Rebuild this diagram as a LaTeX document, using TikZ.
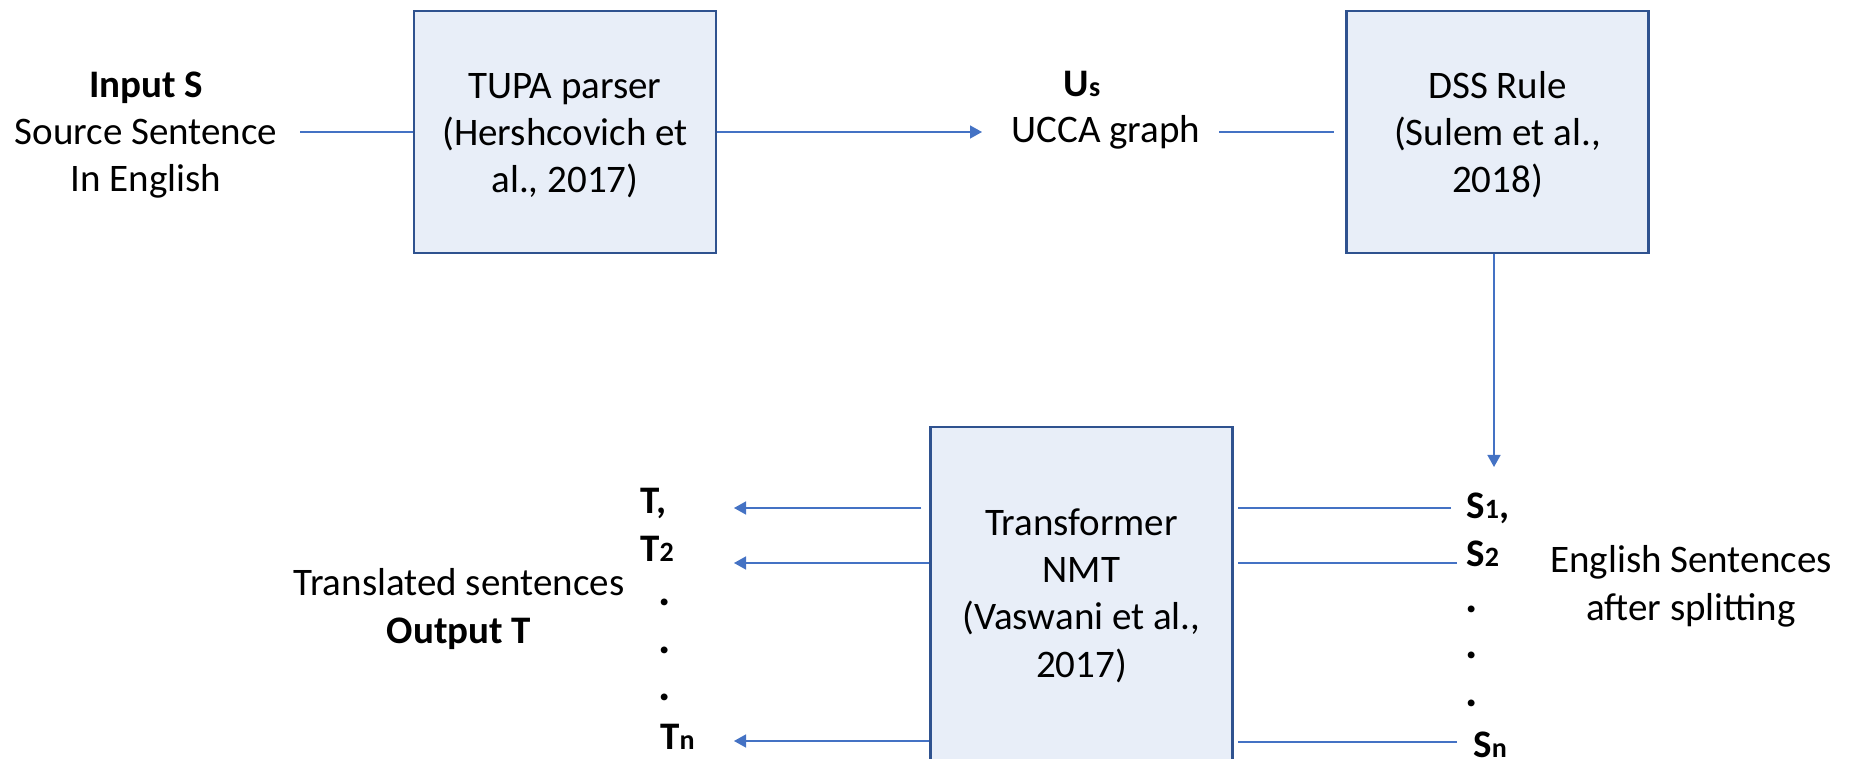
\documentclass[tikz,border=0pt]{standalone}
\usepackage{fontspec}
\setmainfont{Carlito}
\usetikzlibrary{arrows.meta}
\definecolor{boxfill}{HTML}{E8EEF8}
\definecolor{boxline}{HTML}{2F528F}
\definecolor{wireblue}{HTML}{4472C4}
% small index letter set on the baseline (U_s, S_1, T_n ...)
\newcommand\lowsub[1]{{\fontsize{14}{14}\selectfont #1}}

\begin{document}
\begin{tikzpicture}[x=0.5pt,y=-0.5pt,
  stagebox/.style={draw=boxline, fill=boxfill, line width=1.1pt,
    minimum width=151pt, minimum height=121pt, inner sep=0pt},
  txt/.style={font=\fontsize{19.5}{23.6}\selectfont, align=center,
    inner sep=0pt, anchor=base},
  lbl/.style={font=\fontsize{19.5}{23.6}\selectfont\bfseries,
    inner sep=0pt, anchor=base west},
  dotlbl/.style={lbl, font=\fontsize{23}{23}\selectfont\bfseries},
  wire/.style={draw=wireblue, line width=0.75pt},
  flow/.style={wire, -{Triangle[length=6pt,width=6.5pt]}},
]
\useasboundingbox (0,0) rectangle (1860,759);
\clip (0,0) rectangle (1860,759);

% processing stages
\node[stagebox] (tupa) at (565,132) {};
\node[stagebox] (dss) at (1497.5,132) {};
\node[stagebox, minimum height=170pt] (nmt) at (1081.5,597) {};

% multi-line texts are placed by the baseline of their last line
\node[txt] (tupa-txt) at (565,193) {TUPA parser\\(Hershcovich et\\al., 2017)};
\node[txt] (dss-txt) at (1497.5,193) {DSS Rule\\(Sulem et al.,\\2018)};
\node[txt] (nmt-txt) at (1081.5,677) {Transformer\\NMT\\(Vaswani et al.,\\2017)};

% data descriptions
\node[txt] (src) at (146,192) {\textbf{Input S}\\Source Sentence\\In English};
\node[txt] (us) at (1082,97) {\textbf{U\lowsub{s}}};
\node[txt] (ucca) at (1106,143) {UCCA graph};
\node[txt] (trans) at (459,643) {Translated sentences\\\textbf{Output T}};
\node[txt] (eng) at (1691,620) {English Sentences\\after splitting};

% split sentences
\node[lbl] (s1) at (1466,518) {S\lowsub{1},};
\node[lbl] (s2) at (1466,567) {S\lowsub{2}};
\node[dotlbl] (sd1) at (1465,612) {.};
\node[dotlbl] (sd2) at (1465,658) {.};
\node[dotlbl] (sd3) at (1465,706) {.};
\node[lbl] (sn) at (1473,757) {S\lowsub{n}};

% translated sentences
\node[lbl] (t1) at (640,514) {T,};
\node[lbl] (t2) at (640,561) {T\lowsub{2}};
\node[dotlbl] (td1) at (658,605) {.};
\node[dotlbl] (td2) at (658,653) {.};
\node[dotlbl] (td3) at (658,700) {.};
\node[lbl] (tn) at (660,749) {T\lowsub{n}};

% top row connectors
\coordinate (src-out) at (300,132);
\coordinate (ucca-in) at (982,132);
\coordinate (ucca-out) at (1219,132);
\coordinate (dss-in) at (1334,132);
\coordinate (split-in) at (1494,467);
\draw[wire] (src-out) -- (tupa.west);
\draw[flow] (tupa.east) -- (ucca-in);
\draw[wire] (ucca-out) -- (dss-in);
\draw[flow] (dss.south -| split-in) -- (split-in);

% split sentences into the translator
\coordinate (s1-in) at (1451,508);
\coordinate (s2-in) at (1457,563);
\coordinate (sn-in) at (1457,742);
\draw[wire] (s1-in) -- ([xshift=2pt]nmt.east |- s1-in);
\draw[wire] (s2-in) -- ([xshift=2pt]nmt.east |- s2-in);
\draw[wire] (sn-in) -- ([xshift=2pt]nmt.east |- sn-in);

% translations out of the translator
\coordinate (t1-out) at (734,508);
\coordinate (t2-out) at (734,563);
\coordinate (tn-out) at (734,741);
\draw[flow] ([xshift=-4pt]nmt.west |- t1-out) -- (t1-out);
\draw[flow] (nmt.west |- t2-out) -- (t2-out);
\draw[flow] (nmt.west |- tn-out) -- (tn-out);
\end{tikzpicture}
\end{document}
